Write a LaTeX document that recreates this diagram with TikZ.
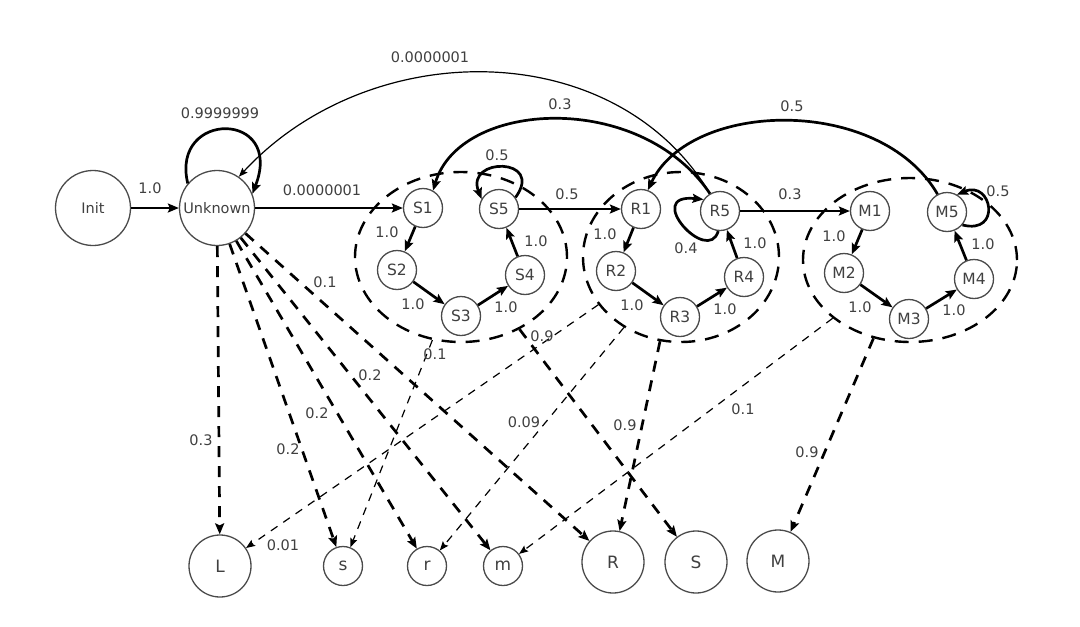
\documentclass[tikz,border=0pt]{standalone}
\usepackage{fontspec}
\setmainfont{DejaVu Sans}
\usetikzlibrary{arrows.meta,shapes.geometric}
\definecolor{txt}{HTML}{404040}
\definecolor{bord}{HTML}{4A4A4A}
\begin{document}
\begin{tikzpicture}[x=1pt,y=-1pt,
  font=\fontsize{14.5}{17}\selectfont,
  every node/.append style={text=txt},
  bigst/.style={circle,draw=bord,line width=1.3pt,inner sep=0pt,minimum size=75pt},
  st/.style={circle,draw=bord,line width=1.3pt,inner sep=0pt,minimum size=39pt,font=\fontsize{15.5}{18}\selectfont},
  botbig/.style={circle,draw=bord,line width=1.3pt,inner sep=0pt,minimum size=62pt,font=\fontsize{17}{20}\selectfont},
  botsml/.style={circle,draw=bord,line width=1.3pt,inner sep=0pt,minimum size=39pt,font=\fontsize{17}{20}\selectfont},
  clus/.style={ellipse,draw=black,line width=2.4pt,dash pattern=on 14pt off 10pt,inner sep=0pt},
  tarr/.style={-{Stealth[length=11pt,width=9pt,inset=2pt]},line width=2.7pt,black},
  thinarr/.style={-{Stealth[length=9pt,width=7pt,inset=1.5pt]},line width=1.2pt,black},
  darr/.style={-{Stealth[length=11pt,width=9pt,inset=2pt]},line width=2.7pt,black,dash pattern=on 11pt off 9pt},
  tdarr/.style={-{Stealth[length=9pt,width=7pt,inset=1.5pt]},line width=1.2pt,black,dash pattern=on 8pt off 7pt},
  lbl/.style={inner sep=0pt}
]
\fill[white] (0,0) rectangle (1080,627);
\useasboundingbox (0,0) rectangle (1080,627);

% clusters
\node[clus,minimum width=212pt,minimum height=170pt] (Sc) at (461,257) {};
\node[clus,minimum width=196pt,minimum height=170pt] (Rc) at (681,257) {};
\node[clus,minimum width=214pt,minimum height=164pt] (Mc) at (910,260) {};

% main nodes
\node[bigst] (Init) at (93,208) {Init};
\node[bigst] (U) at (217,208) {Unknown};

\node[st] (S1) at (423,208) {S1};
\node[st] (S2) at (397,270) {S2};
\node[st] (S3) at (461,316) {S3};
\node[st] (S4) at (525,275) {S4};
\node[st] (S5) at (499,209) {S5};

\node[st] (R1) at (641,209) {R1};
\node[st] (R2) at (616,271) {R2};
\node[st] (R3) at (680,317) {R3};
\node[st] (R4) at (744,277) {R4};
\node[st] (R5) at (720,211) {R5};

\node[st] (M1) at (870,211) {M1};
\node[st] (M2) at (844,273) {M2};
\node[st] (M3) at (909,319) {M3};
\node[st] (M4) at (974,279) {M4};
\node[st] (M5) at (947,212) {M5};

% bottom nodes
\node[botbig] (L) at (220,566) {L};
\node[botsml] (s) at (343,566) {s};
\node[botsml] (r) at (427,566) {r};
\node[botsml] (m) at (503,566) {m};
\node[botbig] (R) at (613,562) {R};
\node[botbig] (S) at (696,562) {S};
\node[botbig] (M) at (778,561) {M};

% solid edges
\draw[tarr] (Init) -- (U);
\draw[tarr] (U) -- (S1);
\draw[tarr] (U.140) .. controls (170,110) and (285,110) .. (U.22);
\draw[thinarr] (R5.120) .. controls (615,35) and (370,35) .. (U.55);
\draw[tarr] (R5.120) .. controls (640,90) and (460,100) .. (S1.60);
\draw[tarr] (M5.118) .. controls (880,95) and (690,100) .. (R1.70);

\draw[tarr] (S1) -- (S2);
\draw[tarr] (S2) -- (S3);
\draw[tarr] (S3) -- (S4);
\draw[tarr] (S4) -- (S5);
\draw[tarr] (S5.35) .. controls (545,157) and (465,157) .. (S5.150);
\draw[tarr] (S5) -- (R1);

\draw[tarr] (R1) -- (R2);
\draw[tarr] (R2) -- (R3);
\draw[tarr] (R3) -- (R4);
\draw[tarr] (R4) -- (R5);
\draw[tarr] (R5.-95) .. controls (708,266) and (642,193) .. (R5.145);
\draw[tarr] (R5) -- (M1);

\draw[tarr] (M1) -- (M2);
\draw[tarr] (M2) -- (M3);
\draw[tarr] (M3) -- (M4);
\draw[tarr] (M4) -- (M5);
\draw[tarr] (M5.-40) .. controls (1002,235) and (992,180) .. (M5.60);

% dashed edges
\draw[darr] (U) -- (L);
\draw[darr] (U) -- (s);
\draw[darr] (U) -- (r);
\draw[darr] (U) -- (m);
\draw[darr] (U) -- (R);
\draw[darr] (Sc.-51) -- (S);
\draw[darr] (Rc.-104) -- (R);
\draw[darr] (Mc.-115) -- (M);
\draw[tdarr] (Sc.-109) -- (s);
\draw[tdarr] (Rc.-150) -- (L);
\draw[tdarr] (Rc.-129) -- (r);
\draw[tdarr] (Mc.-143) -- (m);

% labels
\node[lbl] (a1) at (150,188) {1.0};
\node[lbl] (a2) at (220,113) {0.9999999};
\node[lbl] (a3) at (322,190) {0.0000001};
\node[lbl] (a4) at (430,57) {0.0000001};
\node[lbl] (a5) at (560,104) {0.3};
\node[lbl] (a6) at (792,106) {0.5};
\node[lbl] (a7) at (497,155) {0.5};
\node[lbl] (a8) at (567,194) {0.5};
\node[lbl] (a9) at (686,248) {0.4};
\node[lbl] (a10) at (790,194) {0.3};
\node[lbl] (a11) at (998,191) {0.5};

\node[lbl] (b1) at (387,232) {1.0};
\node[lbl] (b2) at (413,304) {1.0};
\node[lbl] (b3) at (506,307) {1.0};
\node[lbl] (b4) at (536,241) {1.0};
\node[lbl] (b5) at (605,234) {1.0};
\node[lbl] (b6) at (632,305) {1.0};
\node[lbl] (b7) at (725,309) {1.0};
\node[lbl] (b8) at (755,243) {1.0};
\node[lbl] (b9) at (834,236) {1.0};
\node[lbl] (b10) at (860,307) {1.0};
\node[lbl] (b11) at (954,310) {1.0};
\node[lbl] (b12) at (983,244) {1.0};

\node[lbl] (c1) at (201,440) {0.3};
\node[lbl] (c2) at (288,449) {0.2};
\node[lbl] (c3) at (317,413) {0.2};
\node[lbl] (c4) at (370,375) {0.2};
\node[lbl] (c5) at (325,282) {0.1};
\node[lbl] (c6) at (435,354) {0.1};
\node[lbl] (c7) at (542,336) {0.9};
\node[lbl] (c8) at (524,422) {0.09};
\node[lbl] (c9) at (625,425) {0.9};
\node[lbl] (c10) at (743,409) {0.1};
\node[lbl] (c11) at (807,452) {0.9};
\node[lbl] (c12) at (283,545) {0.01};
\end{tikzpicture}
\end{document}
